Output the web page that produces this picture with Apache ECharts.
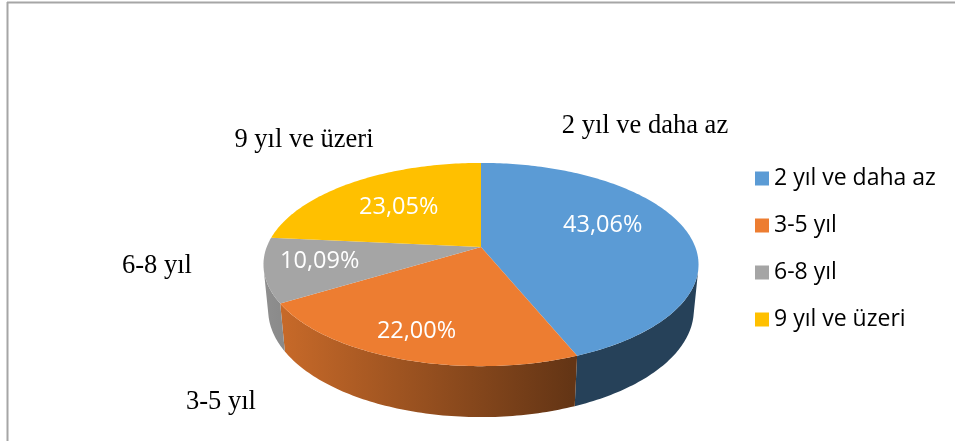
<!DOCTYPE html>
<html>
<head>
<meta charset="utf-8">
<script src="https://cdn.jsdelivr.net/npm/echarts@6/dist/echarts.min.js"></script>
<style>
	html, body { margin: 0; padding: 0; background: #fff; }
	#chart { width: 955px; height: 441px; }
</style>
</head>
<body>
<div id="chart"></div>
<script>
//////////// 데이터 ////////////
var categories = ['2 yıl ve daha az', '3-5 yıl', '6-8 yıl', '9 yıl ve üzeri'];
var shares = [43.06, 22.00, 10.09, 23.05];
var colors = ['#5B9BD5', '#ED7D31', '#A5A5A5', '#FFC000'];

//////////// 배치 (3D 투영) ////////////
var pieCenter = [481, 247];
var tilt = 27.4;        // 기울기 (도)
var camDist = 5.15;     // 카메라 거리 (반지름 단위)
var focal = 1103.5;     // 초점 거리 (px)
var thickness = 0.241;  // 두께 (반지름 단위)
// 안쪽 퍼센트 라벨 보정
var innerNudge = [[-2, -11], [-20, 22], [-33, 1], [-2, 1]];
// 바깥 이름 라벨 위치 (파이 중심 기준)
var outerOffset = [[164, -121], [-260, 155], [-324, 19], [-177, -107]];

// 색을 어둡게
function shade(hex, k) {
	var n = parseInt(hex.slice(1), 16);
	var r = Math.round(((n >> 16) & 255) * k);
	var g = Math.round(((n >> 8) & 255) * k);
	var b = Math.round((n & 255) * k);
	return 'rgb(' + r + ',' + g + ',' + b + ')';
}

function total() {
	return shares.reduce(function (a, b) { return a + b; }, 0);
}

// 원 위의 점 (각도, 반지름 비율, 아래로 내림) -> 화면 좌표
function project(deg, r, drop) {
	var t = deg * Math.PI / 180;
	var a = tilt * Math.PI / 180;
	var X = r * Math.sin(t), Z = r * Math.cos(t), Y = drop || 0;
	var yc = -Z * Math.sin(a) + Y * Math.cos(a);
	var zc = Z * Math.cos(a) + Y * Math.sin(a);
	var k = focal / (camDist + zc);
	return [pieCenter[0] + X * k, pieCenter[1] + yc * k];
}

function arc(a, b, drop) {
	var out = [];
	var n = Math.max(2, Math.ceil(Math.abs(b - a)));
	for (var i = 0; i <= n; i++) {
		out.push(project(a + (b - a) * i / n, 1, drop));
	}
	return out;
}

// 3D 파이 조각 그리기
function renderSlice(params, api) {
	var i = params.seriesIndex;
	var sum = total();
	var a0 = api.value(0) / sum * 360;
	var a1 = (api.value(0) + api.value(1)) / sum * 360;
	var col = colors[i];
	var children = [];

	// 옆면: 카메라 쪽을 향하는 부분만
	var edge = Math.acos(-1 / (camDist * Math.cos(tilt * Math.PI / 180))) * 180 / Math.PI;
	var lo = Math.max(a0, edge), hi = Math.min(a1, 360 - edge);
	if (lo < hi) {
		var wall = arc(lo, hi, 0).concat(arc(hi, lo, thickness));
		var x0 = project(270, 1)[0], x1 = project(90, 1)[0];
		children.push({
			type: 'polygon',
			shape: { points: wall },
			style: {
				fill: new echarts.graphic.LinearGradient(x0, 0, x1, 0, [
					{ offset: 0, color: shade(col, 0.86) },
					{ offset: 0.71, color: shade(col, 0.42) },
					{ offset: 1, color: shade(col, 0.42) }
				], true)
			}
		});
	}

	// 윗면
	children.push({
		type: 'polygon',
		shape: { points: [project(0, 0)].concat(arc(a0, a1, 0)) },
		style: { fill: col }
	});

	// 퍼센트 라벨
	var lp = project((a0 + a1) / 2, 0.6);
	children.push({
		type: 'text',
		style: {
			text: api.value(1).toFixed(2).replace('.', ',') + '%',
			x: lp[0] + innerNudge[i][0],
			y: lp[1] + innerNudge[i][1],
			fill: '#fff',
			fontFamily: 'Open Sans',
			fontSize: 23.5,
			align: 'center',
			verticalAlign: 'middle'
		}
	});

	// 이름 라벨
	children.push({
		type: 'text',
		style: {
			text: categories[i],
			x: pieCenter[0] + outerOffset[i][0],
			y: pieCenter[1] + outerOffset[i][1],
			fill: '#000',
			fontFamily: 'Liberation Serif',
			fontSize: 26.5,
			align: 'center',
			verticalAlign: 'middle'
		}
	});

	return { type: 'group', children: children };
}

//////////// 차트 ////////////
function showPieChart() {
	var chart = echarts.init(document.getElementById('chart'));
	var series = [];
	var start = 0;
	for (var i = 0; i < categories.length; i++) {
		series.push({
			name: categories[i],
			type: 'custom',
			coordinateSystem: 'none',
			renderItem: renderSlice,
			itemStyle: { color: colors[i] },
			data: [[start, shares[i]]],
			silent: true
		});
		start += shares[i];
	}

	var option = {
		animation: false,
		color: colors,
		legend: {
			orient: 'vertical',
			left: 755,
			top: 167,
			padding: 0,
			icon: 'rect',
			itemWidth: 14,
			itemHeight: 14,
			itemGap: 24,
			data: categories,
			textStyle: {
				fontFamily: 'Open Sans',
				fontSize: 23,
				lineHeight: 23,
				color: '#000'
			}
		},
		graphic: [
			{ type: 'line', shape: { x1: 7, y1: 2.5, x2: 955, y2: 2.5 }, style: { stroke: '#a6a6a6', lineWidth: 2 } },
			{ type: 'line', shape: { x1: 7.5, y1: 2, x2: 7.5, y2: 441 }, style: { stroke: '#a6a6a6', lineWidth: 2 } }
		],
		series: series
	};
	chart.setOption(option);
}

showPieChart();
</script>
</body>
</html>
